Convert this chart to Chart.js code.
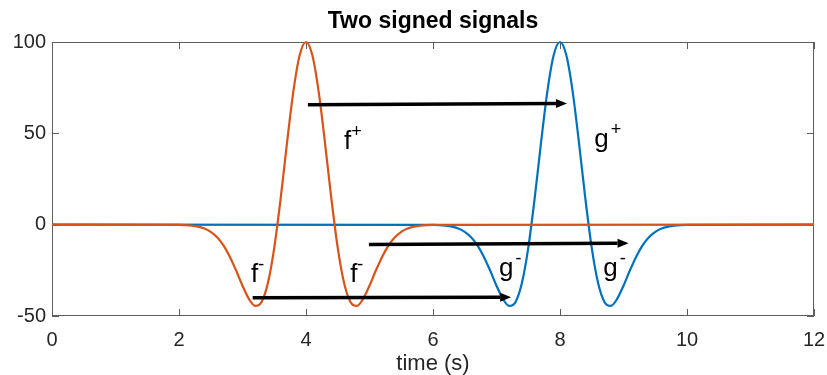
<!DOCTYPE html>
<html>
<head>
<meta charset="utf-8">
<script src="https://cdn.jsdelivr.net/npm/chart.js@4.4.1/dist/chart.umd.min.js"></script>
<style>
  body { margin: 0; background: #fff; }
</style>
</head>
<body>
<canvas id="signalChart" width="827" height="375"></canvas>
<script>
// tick values
const xTicks = [0, 2, 4, 6, 8, 10, 12];
const yTicks = [-50, 0, 50, 100];

// f (orange)
const fTime = [0, 2.0, 2.1, 2.2, 2.3, 2.4, 2.5, 2.6, 2.7, 2.8, 2.9, 3.0, 3.1, 3.2, 3.3, 3.4, 3.5, 3.6, 3.7, 3.8, 3.9,
  4.0, 4.1, 4.2, 4.3, 4.4, 4.5, 4.6, 4.7, 4.8, 4.9, 5.0, 5.1, 5.2, 5.3, 5.4, 5.5, 5.6, 5.7, 5.8, 5.9, 6.0, 12];
const fValue = [0, -0.1, -0.2, -0.5, -1.1, -2.1, -3.9, -6.9, -11.3, -17.5, -25.1, -33.4, -40.6, -44.5, -42.3, -32.0, -12.7, 14.1, 44.5, 72.7, 92.7,
  100, 92.7, 72.7, 44.5, 14.1, -12.7, -32.0, -42.3, -44.5, -40.6, -33.4, -25.1, -17.5, -11.3, -6.9, -3.9, -2.1, -1.1, -0.5, -0.2, -0.1, 0];

// g (blue)
const gTime = [0, 6.0, 6.1, 6.2, 6.3, 6.4, 6.5, 6.6, 6.7, 6.8, 6.9, 7.0, 7.1, 7.2, 7.3, 7.4, 7.5, 7.6, 7.7, 7.8, 7.9,
  8.0, 8.1, 8.2, 8.3, 8.4, 8.5, 8.6, 8.7, 8.8, 8.9, 9.0, 9.1, 9.2, 9.3, 9.4, 9.5, 9.6, 9.7, 9.8, 9.9, 10.0, 12];
const gValue = [0, -0.1, -0.2, -0.5, -1.1, -2.1, -3.9, -6.9, -11.3, -17.5, -25.1, -33.4, -40.6, -44.5, -42.3, -32.0, -12.7, 14.1, 44.5, 72.7, 92.7,
  100, 92.7, 72.7, 44.5, 14.1, -12.7, -32.0, -42.3, -44.5, -40.6, -33.4, -25.1, -17.5, -11.3, -6.9, -3.9, -2.1, -1.1, -0.5, -0.2, -0.1, 0];

// arrows (data coords, start -> tip)
const arrowX0 = [4.03, 4.99, 3.16];
const arrowY0 = [65.7, -10.8, -40.0];
const arrowX1 = [8.11, 9.08, 7.23];
const arrowY1 = [66.3, -10.2, -39.7];

// text labels: letter, superscript, anchor (left, baseline)
const labelText = ['f', 'g', 'f', 'f', 'g', 'g'];
const labelSup = ['+', '+', '-', '-', '-', '-'];
const labelX = [4.60, 8.54, 3.135, 4.695, 7.04, 8.68];
const labelY = [41.3, 42.4, -31.4, -31.4, -28.1, -28.1];

const FONT = "'Liberation Sans', Arial, sans-serif";
const AXIS_COLOR = '#262626';

const toPoints = (t, v) => t.map((x, i) => ({ x: x, y: v[i] }));

const boxPlugin = {
  id: 'box',
  beforeDatasetsDraw(chart) {
    const { ctx, chartArea: a, scales } = chart;
    ctx.save();
    ctx.strokeStyle = '#5e5e5e';
    ctx.lineWidth = 1;
    ctx.strokeRect(a.left + 0.5, a.top + 0.5, a.right - a.left - 1, a.bottom - a.top - 1);
    ctx.beginPath();
    xTicks.forEach(v => {
      const px = Math.round(scales.x.getPixelForValue(v)) + 0.5;
      ctx.moveTo(px, a.bottom); ctx.lineTo(px, a.bottom - 7);
      ctx.moveTo(px, a.top); ctx.lineTo(px, a.top + 7);
    });
    yTicks.forEach(v => {
      const py = Math.round(scales.y.getPixelForValue(v)) + 0.5;
      ctx.moveTo(a.left, py); ctx.lineTo(a.left + 7, py);
      ctx.moveTo(a.right, py); ctx.lineTo(a.right - 7, py);
    });
    ctx.stroke();
    ctx.restore();
  }
};

const annotatePlugin = {
  id: 'annotate',
  afterDatasetsDraw(chart) {
    const { ctx, scales: { x, y } } = chart;
    ctx.save();
    // arrows
    ctx.strokeStyle = '#000';
    ctx.fillStyle = '#000';
    arrowX0.forEach((_, i) => {
      const x0 = x.getPixelForValue(arrowX0[i]), y0 = y.getPixelForValue(arrowY0[i]);
      const x1 = x.getPixelForValue(arrowX1[i]), y1 = y.getPixelForValue(arrowY1[i]);
      const ang = Math.atan2(y1 - y0, x1 - x0);
      const len = 11, half = 4.5;
      const bx = x1 - len * Math.cos(ang), by = y1 - len * Math.sin(ang);
      ctx.lineWidth = 3.5;
      ctx.beginPath();
      ctx.moveTo(x0, y0);
      ctx.lineTo(bx, by);
      ctx.stroke();
      ctx.beginPath();
      ctx.moveTo(x1, y1);
      ctx.lineTo(bx + half * Math.sin(ang), by - half * Math.cos(ang));
      ctx.lineTo(bx - half * Math.sin(ang), by + half * Math.cos(ang));
      ctx.closePath();
      ctx.fill();
    });
    // labels
    ctx.textBaseline = 'alphabetic';
    ctx.textAlign = 'left';
    labelText.forEach((t, i) => {
      const px = x.getPixelForValue(labelX[i]), py = y.getPixelForValue(labelY[i]);
      ctx.font = '26px ' + FONT;
      ctx.fillText(t, px, py);
      const w = ctx.measureText(t).width;
      ctx.font = '18px ' + FONT;
      ctx.fillText(labelSup[i], px + w + (t === 'g' ? 2 : 0), py - 12);
    });
    ctx.restore();
  }
};

new Chart(document.getElementById('signalChart'), {
  type: 'line',
  data: {
    datasets: [
      {
        label: 'f',
        data: toPoints(fTime, fValue),
        borderColor: '#D95319',
        borderWidth: 2.2,
        pointRadius: 0,
        cubicInterpolationMode: 'monotone',
        clip: 4,
        order: 1
      },
      {
        label: 'g',
        data: toPoints(gTime, gValue),
        borderColor: '#0072BD',
        borderWidth: 2.2,
        pointRadius: 0,
        cubicInterpolationMode: 'monotone',
        clip: 4,
        order: 2
      }
    ]
  },
  options: {
    responsive: false,
    animation: false,
    layout: { padding: 0 },
    plugins: {
      legend: { display: false },
      tooltip: { enabled: false },
      title: {
        display: true,
        fullSize: false,
        text: 'Two signed signals',
        color: '#000',
        font: { family: FONT, size: 23, weight: 'bold', lineHeight: 1.2 },
        padding: { top: 8, bottom: 6.4 }
      }
    },
    scales: {
      x: {
        type: 'linear',
        min: 0,
        max: 12,
        afterBuildTicks: s => { s.ticks = xTicks.map(v => ({ value: v })); },
        afterFit: s => { s.height = 59; s.paddingLeft = 0; s.paddingRight = 13; },
        grid: { display: false, drawTicks: false },
        border: { display: false },
        ticks: { font: { family: FONT, size: 20 }, color: AXIS_COLOR, padding: 12, maxRotation: 0, autoSkip: false },
        title: { display: true, text: 'time (s)', color: AXIS_COLOR, font: { family: FONT, size: 22, lineHeight: 1.0 }, padding: 0 }
      },
      y: {
        type: 'linear',
        min: -50,
        max: 100,
        afterBuildTicks: s => { s.ticks = yTicks.map(v => ({ value: v })); },
        afterFit: s => { s.width = 52; s.paddingTop = 0; s.paddingBottom = 0; },
        grid: { display: false, drawTicks: false },
        border: { display: false },
        ticks: { font: { family: FONT, size: 20 }, color: AXIS_COLOR, padding: 6 }
      }
    }
  },
  plugins: [boxPlugin, annotatePlugin]
});
</script>
</body>
</html>
